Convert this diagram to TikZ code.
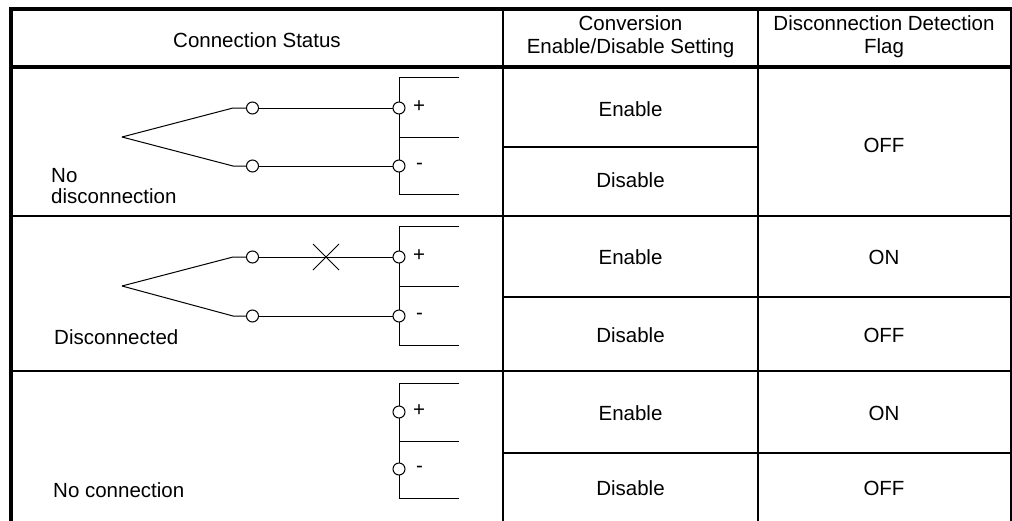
\documentclass[tikz,border=0pt]{standalone}
\usepackage{fontspec}
\setmainfont{Liberation Sans}
\begin{document}
\begin{tikzpicture}[x=1pt,y=-1pt,
  thickrule/.style={line width=4pt},
  rule/.style={line width=2pt},
  wire/.style={line width=1pt},
  term/.style={circle, draw, fill=white, line width=1pt, minimum size=12pt, inner sep=0pt},
  lbl/.style={font=\fontsize{20.5}{23}\selectfont, inner sep=0pt, anchor=base},
  lbll/.style={lbl, anchor=base west},
  sign/.style={font=\fontsize{20.5}{23}\selectfont, inner sep=0pt, anchor=center}]
\useasboundingbox (0,0) rectangle (1012,520);

% ---------- table ----------
\draw[rule] (1011,9) -- (1011,530);
\draw[rule] (503,9) -- (503,530);
\draw[rule] (758,9) -- (758,530);
\draw[rule] (11,216) -- (1011,216);
\draw[rule] (11,371) -- (1011,371);
\draw[rule] (503,147) -- (758,147);
\draw[rule] (503,297) -- (1011,297);
\draw[rule] (503,453) -- (1011,453);
\draw[thickrule] (9,9) -- (1012,9);
\draw[thickrule] (11,7) -- (11,530);
\draw[thickrule] (11,67) -- (1011,67);

% ---------- header ----------
\node[lbl] (h1) at (257,47) {Connection Status};
\node[lbl] (h2a) at (630.5,30) {Conversion};
\node[lbl] (h2b) at (630.5,53) {Enable/Disable Setting};
\node[lbl] (h3a) at (884,30) {Disconnection Detection};
\node[lbl] (h3b) at (884,53) {Flag};

% ---------- right columns ----------
\node[lbl] (e1) at (630.5,116) {Enable};
\node[lbl] (d1) at (630.5,187) {Disable};
\node[lbl] (f1) at (884,152) {OFF};
\node[lbl] (e2) at (630.5,264) {Enable};
\node[lbl] (d2) at (630.5,342) {Disable};
\node[lbl] (f2a) at (884,264) {ON};
\node[lbl] (f2b) at (884,342) {OFF};
\node[lbl] (e3) at (630.5,420) {Enable};
\node[lbl] (d3) at (630.5,495) {Disable};
\node[lbl] (f3a) at (884,420) {ON};
\node[lbl] (f3b) at (884,495) {OFF};

% ---------- status labels ----------
\node[lbll] (s1a) at (51,182) {No};
\node[lbll] (s1b) at (51,203) {disconnection};
\node[lbll] (s2) at (54,344) {Disconnected};
\node[lbll] (s3) at (53,497) {No connection};

% ---------- row 1 circuit ----------
\draw[wire] (459,77) -- (399,77) -- (399,194) -- (459,194);
\draw[wire] (399,137) -- (459,137);
\coordinate (a1) at (122,137);
\coordinate (u1) at (233,108);
\coordinate (l1) at (233,166);
\node[term] (cu1) at (252.5,108) {};
\node[term] (cl1) at (252.5,166) {};
\node[term] (tp1) at (399,108) {};
\node[term] (tm1) at (399,166) {};
\draw[wire] (a1) -- (u1) -- (cu1);
\draw[wire] (a1) -- (l1) -- (cl1);
\draw[wire] (cu1) -- (tp1);
\draw[wire] (cl1) -- (tm1);
\node[sign] (pp1) at (419,107) {+};
\node[sign] (mm1) at (419.5,166) {-};

% ---------- row 2 circuit ----------
\draw[wire] (459,226) -- (399,226) -- (399,345) -- (459,345);
\draw[wire] (399,286) -- (459,286);
\coordinate (a2) at (122,286);
\coordinate (u2) at (233,257);
\coordinate (l2) at (233,316);
\node[term] (cu2) at (252.5,257) {};
\node[term] (cl2) at (252.5,316) {};
\node[term] (tp2) at (399,257) {};
\node[term] (tm2) at (399,316) {};
\draw[wire] (a2) -- (u2) -- (cu2);
\draw[wire] (a2) -- (l2) -- (cl2);
\draw[wire] (cu2) -- (tp2);
\draw[wire] (cl2) -- (tm2);
\coordinate (x2) at (326,257);
\draw[wire] ([shift={(-13,-13)}]x2) -- ([shift={(13,13)}]x2);
\draw[wire] ([shift={(-13,13)}]x2) -- ([shift={(13,-13)}]x2);
\node[sign] (pp2) at (419,256) {+};
\node[sign] (mm2) at (419.5,316) {-};

% ---------- row 3 circuit ----------
\draw[wire] (459,383) -- (399,383) -- (399,498) -- (459,498);
\draw[wire] (399,441) -- (459,441);
\node[term] (tp3) at (399,412) {};
\node[term] (tm3) at (399,469) {};
\node[sign] (pp3) at (419,411) {+};
\node[sign] (mm3) at (419.5,469) {-};
\end{tikzpicture}
\end{document}
